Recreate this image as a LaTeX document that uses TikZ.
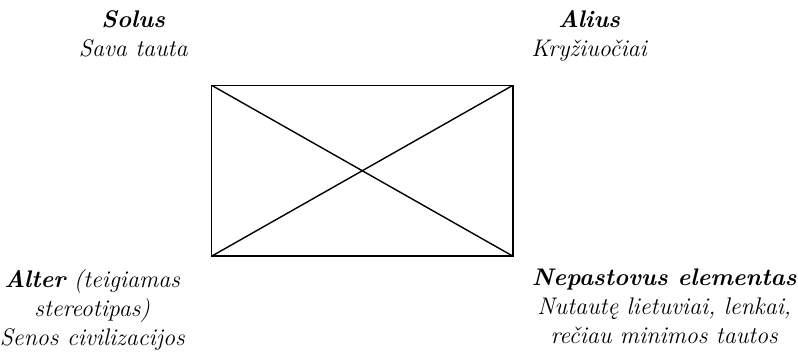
\documentclass[tikz,border=0pt,12pt]{standalone}
\usepackage{fontspec}
\tikzset{
  corner label/.style={font=\itshape,align=center,anchor=base,inner sep=0pt},
  frame line/.style={line width=0.7pt}
}
\begin{document}
\begin{tikzpicture}[x=1cm,y=1cm]
\useasboundingbox (0,0) rectangle (14.02,6.19);

\coordinate (nw) at (3.72,4.69);
\coordinate (ne) at (9.01,4.69);
\coordinate (sw) at (3.72,1.69);
\coordinate (se) at (9.01,1.69);

\draw[frame line] (nw) rectangle (se);
\draw[frame line] (nw) -- (se);
\draw[frame line] (sw) -- (ne);

\node[corner label] (solus) at (2.34,5.20) {\textbf{Solus}\\Sava tauta};
\node[corner label] (alius) at (10.35,5.20) {\textbf{Alius}\\Kryžiuočiai};
\node[corner label] (alter) at (1.62,0.12) {\textbf{Alter} (teigiamas\\stereotipas)\\Senos civilizacijos};
\node[corner label,anchor=base east] (nepastovus) at (14.0,0.16) {\textbf{Nepastovus elementas}\\Nutautę lietuviai, lenkai,\\rečiau minimos tautos};
\end{tikzpicture}
\end{document}
